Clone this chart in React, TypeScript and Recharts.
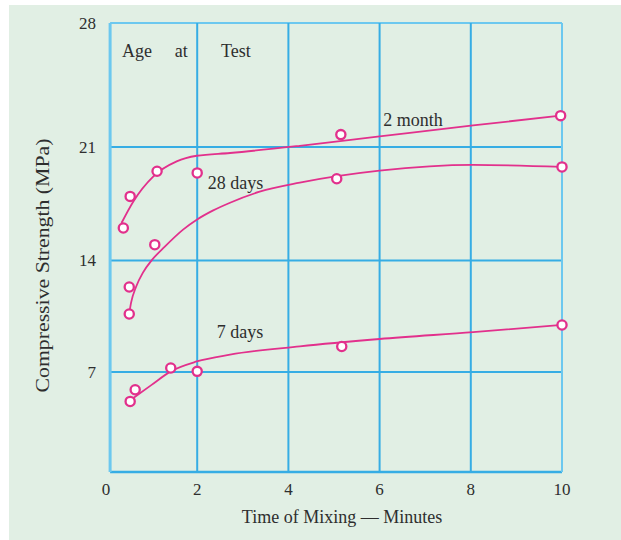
import React from 'react';
import {
  ComposedChart,
  Line,
  Scatter,
  XAxis,
  YAxis,
  ReferenceLine,
  ReferenceDot,
} from 'recharts';

const X_TICKS = [0, 2, 4, 6, 8, 10];
const Y_TICKS = [0, 7, 14, 21, 28];
const GRID_X = [2, 4, 6, 8, 10];
const GRID_Y = [7, 14, 21, 28];

// measured points (circles)
const month2Points = [
  { x: 0.38, y: 16.0 },
  { x: 0.53, y: 17.95 },
  { x: 1.12, y: 19.5 },
  { x: 2.0, y: 19.4 },
  { x: 5.15, y: 21.7 },
  { x: 9.97, y: 22.77 },
];
const day28Points = [
  { x: 0.51, y: 10.64 },
  { x: 0.51, y: 12.33 },
  { x: 1.07, y: 14.97 },
  { x: 5.06, y: 19.04 },
  { x: 10.0, y: 19.77 },
];
const day7Points = [
  { x: 0.53, y: 4.94 },
  { x: 0.64, y: 5.76 },
  { x: 1.42, y: 7.25 },
  { x: 2.0, y: 7.04 },
  { x: 5.17, y: 8.6 },
  { x: 10.0, y: 9.95 },
];

// fitted curves
const month2Curve = [
  { x: 0.34, y: 16.31 },
  { x: 0.6, y: 17.64 },
  { x: 1.04, y: 19.19 },
  { x: 1.55, y: 20.11 },
  { x: 1.99, y: 20.46 },
  { x: 2.72, y: 20.63 },
  { x: 4.25, y: 21.07 },
  { x: 6.0, y: 21.6 },
  { x: 8.05, y: 22.22 },
  { x: 9.97, y: 22.77 },
];
const day28Curve = [
  { x: 0.49, y: 10.32 },
  { x: 0.55, y: 11.35 },
  { x: 0.66, y: 12.35 },
  { x: 0.81, y: 13.23 },
  { x: 1.0, y: 14.0 },
  { x: 1.29, y: 14.85 },
  { x: 1.69, y: 15.9 },
  { x: 1.99, y: 16.51 },
  { x: 2.34, y: 17.07 },
  { x: 2.72, y: 17.56 },
  { x: 3.37, y: 18.24 },
  { x: 4.25, y: 18.8 },
  { x: 6.0, y: 19.54 },
  { x: 8.05, y: 19.9 },
  { x: 10.0, y: 19.77 },
];
const day7Curve = [
  { x: 0.6, y: 5.18 },
  { x: 1.0, y: 6.1 },
  { x: 1.42, y: 7.04 },
  { x: 1.99, y: 7.66 },
  { x: 2.72, y: 8.09 },
  { x: 4.25, y: 8.61 },
  { x: 6.0, y: 9.07 },
  { x: 8.05, y: 9.5 },
  { x: 10.0, y: 9.95 },
];

const curveLabels = [
  { text: '2 month', x: 6.73, y: 22.54 },
  { text: '28 days', x: 2.84, y: 18.8 },
  { text: '7 days', x: 2.94, y: 9.56 },
  { text: 'Age', x: 0.68, y: 26.44 },
  { text: 'at', x: 1.65, y: 26.44 },
  { text: 'Test', x: 2.85, y: 26.44 },
];

const X_TITLE = 'Time of Mixing \u2014 Minutes';
const Y_TITLE = 'Compressive Strength (MPa)';

// the printed y axis is not evenly spaced: where each tick sits, as a share of the height
const Y_KNOTS = [0, 0.2227, 0.4713, 0.7238, 1];
const FRAME_LEFT = 0.09;

const PINK = '#e2308c';
const GRID = '#36ade4';
const FRAME = '#6cc8ef';
const INK = '#2e2e2e';
const FONT = '"Liberation Serif", "DejaVu Serif", serif';

function stretchedScale(): any {
  let dom = [0, 28];
  let rng = [0, 1];
  const frac = (v: number) => {
    let i = 0;
    while (i < Y_TICKS.length - 2 && v > Y_TICKS[i + 1]) i++;
    return (
      Y_KNOTS[i] +
      ((v - Y_TICKS[i]) / (Y_TICKS[i + 1] - Y_TICKS[i])) * (Y_KNOTS[i + 1] - Y_KNOTS[i])
    );
  };
  const s: any = (v: number) => rng[0] + (rng[1] - rng[0]) * frac(v);
  s.invert = (p: number) => {
    const t = (p - rng[0]) / (rng[1] - rng[0]);
    let i = 0;
    while (i < Y_KNOTS.length - 2 && t > Y_KNOTS[i + 1]) i++;
    return (
      Y_TICKS[i] +
      ((t - Y_KNOTS[i]) / (Y_KNOTS[i + 1] - Y_KNOTS[i])) * (Y_TICKS[i + 1] - Y_TICKS[i])
    );
  };
  s.domain = (d?: number[]) => {
    if (d === undefined) return dom.slice();
    dom = d.slice();
    return s;
  };
  s.range = (r?: number[]) => {
    if (r === undefined) return rng.slice();
    rng = r.slice();
    return s;
  };
  s.ticks = () => Y_TICKS.slice();
  s.tickFormat = () => (v: number) => String(v);
  s.nice = () => s;
  s.clamp = () => s;
  s.copy = () => stretchedScale().domain(dom).range(rng);
  return s;
}

const dot = (p: any) => (
  <circle cx={p.cx} cy={p.cy} r={4.6} fill="#fff" stroke={PINK} strokeWidth={2.3} />
);

const tickStyle = { fill: INK, fontSize: 17, fontFamily: FONT };

export default function App() {
  return (
    <div style={{ position: 'absolute', left: 0, top: 0, width: 621, height: 540, background: '#fff' }}>
      <div
        style={{ position: 'absolute', left: 9, top: 5, width: 612, height: 535, background: '#e1efe4' }}
      />
      <div style={{ position: 'absolute', left: 0, top: 0 }}>
        <ComposedChart width={621} height={540} margin={{ top: 23, right: 59, bottom: 0, left: 0 }}>
          <XAxis
            type="number"
            dataKey="x"
            domain={[0, 10]}
            ticks={X_TICKS}
            axisLine={false}
            tickLine={false}
            tickSize={0}
            tickMargin={11}
            height={68}
            tick={tickStyle}
            label={{
              value: X_TITLE,
              content: (p: any) => (
                <text
                  x={p.viewBox.x + p.viewBox.width / 2 + 8}
                  y={p.viewBox.y + 51}
                  textAnchor="middle"
                  fill={INK}
                  fontSize={18}
                  fontFamily={FONT}
                >
                  {X_TITLE}
                </text>
              ),
            }}
          />
          <YAxis
            type="number"
            dataKey="y"
            domain={[0, 28]}
            scale={stretchedScale()}
            ticks={Y_TICKS.slice(1)}
            axisLine={false}
            tickLine={false}
            tickSize={0}
            tickMargin={10}
            width={106}
            tick={tickStyle}
            label={{
              value: Y_TITLE,
              content: (p: any) => {
                const cx = p.viewBox.x + 42;
                const cy = p.viewBox.y + p.viewBox.height / 2 + 18;
                return (
                  <text
                    x={cx}
                    y={cy}
                    transform={`rotate(-90 ${cx} ${cy})`}
                    textAnchor="middle"
                    dominantBaseline="central"
                    fill={INK}
                    fontSize={19}
                    fontFamily={FONT}
                    textLength={254}
                    lengthAdjust="spacingAndGlyphs"
                  >
                    {Y_TITLE}
                  </text>
                );
              },
            }}
          />

          {/* grid and frame */}
          {GRID_Y.map((v) => (
            <ReferenceLine
              key={'h' + v}
              segment={[{ x: FRAME_LEFT, y: v }, { x: 10, y: v }]}
              stroke={v === 28 ? FRAME : GRID}
              strokeWidth={2}
            />
          ))}
          <ReferenceLine
            segment={[{ x: FRAME_LEFT, y: 0 }, { x: 10, y: 0 }]}
            stroke={GRID}
            strokeWidth={2.5}
          />
          {GRID_X.map((v) => (
            <ReferenceLine key={'v' + v} x={v} stroke={v === 10 ? FRAME : GRID} strokeWidth={2} />
          ))}
          <ReferenceLine x={FRAME_LEFT} stroke={FRAME} strokeWidth={3} />

          <Line data={month2Curve} dataKey="y" type="monotone" stroke={PINK} strokeWidth={1.8} dot={false} isAnimationActive={false} />
          <Line data={day28Curve} dataKey="y" type="monotone" stroke={PINK} strokeWidth={1.8} dot={false} isAnimationActive={false} />
          <Line data={day7Curve} dataKey="y" type="monotone" stroke={PINK} strokeWidth={1.8} dot={false} isAnimationActive={false} />

          <Scatter data={month2Points} dataKey="y" shape={dot} isAnimationActive={false} />
          <Scatter data={day28Points} dataKey="y" shape={dot} isAnimationActive={false} />
          <Scatter data={day7Points} dataKey="y" shape={dot} isAnimationActive={false} />

          {curveLabels.map((l) => (
            <ReferenceDot
              key={l.text}
              x={l.x}
              y={l.y}
              r={0}
              fill="none"
              stroke="none"
              label={{ value: l.text, position: 'center', fill: INK, fontSize: 18, fontFamily: FONT }}
            />
          ))}
        </ComposedChart>
      </div>
    </div>
  );
}
